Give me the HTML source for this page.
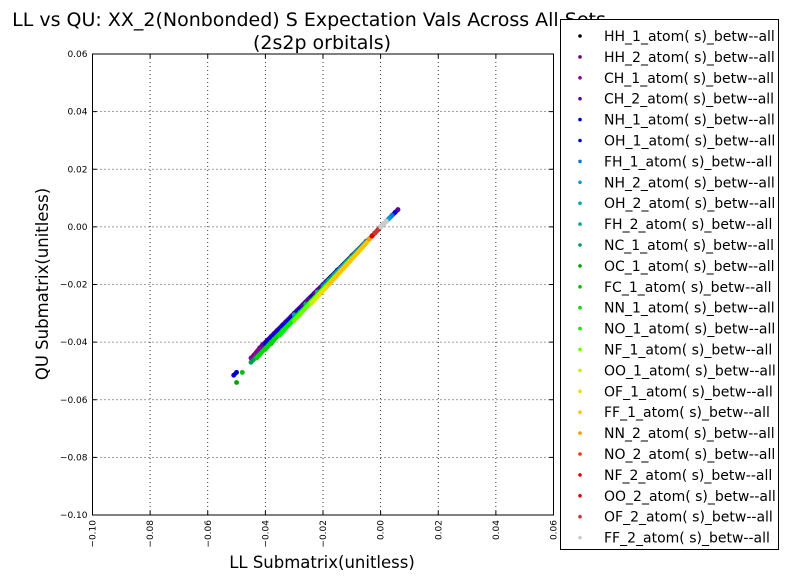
<!DOCTYPE html>
<html><head><meta charset="utf-8"><style>
body{margin:0;background:#fff;width:788px;height:580px;overflow:hidden;font-family:"Liberation Sans","DejaVu Sans",sans-serif}
svg text{font-family:"DejaVu Sans","Liberation Sans",sans-serif}
</style></head><body>
<svg id="c" width="788" height="580" xmlns="http://www.w3.org/2000/svg">
<text x="309" y="26" text-anchor="middle" font-size="19">LL vs QU: XX_2(Nonbonded) S Expectation Vals Across All Sets</text>
<text x="322" y="49" text-anchor="middle" font-size="19">(2s2p orbitals)</text>
<g id="grid"></g><g id="marks"></g><g id="axes"></g>
<text x="322" y="568" text-anchor="middle" font-size="16.5">LL Submatrix(unitless)</text>
<text transform="translate(48,284) rotate(-90)" text-anchor="middle" font-size="16.5">QU Submatrix(unitless)</text>
<g id="legend"></g>
</svg>
<script>
const xTicks=[-0.10,-0.08,-0.06,-0.04,-0.02,0.00,0.02,0.04,0.06];
const yTicks=[-0.10,-0.08,-0.06,-0.04,-0.02,0.00,0.02,0.04,0.06];
const seriesNames=["HH_1","HH_2","CH_1","CH_2","NH_1","OH_1","FH_1","NH_2","OH_2","FH_2","NC_1","OC_1","FC_1","NN_1","NO_1","NF_1","OO_1","OF_1","FF_1","NN_2","NO_2","NF_2","OO_2","OF_2","FF_2"];
const seriesColors=["#000000","#6a0078","#880099","#5a00a8","#0000c0","#0000e0","#0077dd","#0099dd","#00aaaa","#00aa90","#009955","#00a000","#00bb00","#00d800","#00ee00","#66ff00","#ccf000","#eedd00","#ffc400","#ff9900","#ff3300","#ee0000","#dd0000","#cc3333","#cccccc"];
const seriesX=[
[-0.030,-0.025,-0.020,-0.015,-0.010,-0.005],
[-0.044,-0.042,-0.038,-0.034,-0.030,-0.026,-0.022,0.002,0.004,0.006],
[-0.045,-0.043,-0.041,-0.037,-0.033,-0.029,0.003,0.005],
[-0.041,-0.036,-0.031,-0.027,-0.023,-0.019,0.004,0.006],
[-0.051,-0.050,-0.040,-0.035,-0.028,-0.018,-0.012],
[-0.039,-0.032,-0.024,-0.016,-0.008,0.005],
[-0.020,-0.014,-0.008,-0.003,0.001,0.004],
[-0.016,-0.010,-0.004,0.000,0.003],
[-0.030,-0.022,-0.012,-0.002,0.002],
[-0.026,-0.018,-0.010,-0.004],
[-0.045,-0.038,-0.033,-0.028,-0.020,-0.014],
[-0.050,-0.038,-0.034,-0.030,-0.025,-0.020],
[-0.048,-0.040,-0.036,-0.031,-0.026,-0.021,-0.017],
[-0.043,-0.037,-0.032,-0.027,-0.022,-0.016],
[-0.035,-0.029,-0.024,-0.019,-0.015,-0.011],
[-0.030,-0.024,-0.019,-0.014,-0.010],
[-0.024,-0.019,-0.015,-0.012,-0.009,-0.006],
[-0.021,-0.017,-0.013,-0.010,-0.007,-0.004],
[-0.018,-0.014,-0.011,-0.008,-0.005],
[-0.004,-0.002,0.000],
[-0.003,-0.002,-0.001],
[-0.002,-0.001],
[-0.003,-0.001],
[-0.002,0.000],
[0.000,0.001,0.002]];
const seriesY=[
[-0.030,-0.025,-0.020,-0.015,-0.010,-0.005],
[-0.0445,-0.042,-0.038,-0.034,-0.030,-0.026,-0.022,0.002,0.004,0.006],
[-0.0455,-0.0435,-0.041,-0.037,-0.033,-0.029,0.003,0.005],
[-0.041,-0.036,-0.031,-0.027,-0.023,-0.019,0.004,0.006],
[-0.0515,-0.0505,-0.0405,-0.0355,-0.0285,-0.0182,-0.0122],
[-0.0395,-0.0325,-0.0243,-0.0162,-0.0081,0.005],
[-0.0205,-0.0143,-0.0082,-0.0031,0.001,0.004],
[-0.0165,-0.0103,-0.0042,0.000,0.003],
[-0.0305,-0.0226,-0.0124,-0.0021,0.002],
[-0.0268,-0.0186,-0.0104,-0.0042],
[-0.047,-0.040,-0.035,-0.0295,-0.0212,-0.015],
[-0.054,-0.0405,-0.0358,-0.032,-0.0266,-0.0214],
[-0.0505,-0.0425,-0.038,-0.033,-0.0278,-0.0224,-0.0182],
[-0.0455,-0.039,-0.034,-0.0288,-0.0236,-0.0172],
[-0.0375,-0.031,-0.0258,-0.0205,-0.0162,-0.0118],
[-0.0325,-0.026,-0.0208,-0.0153,-0.011],
[-0.0265,-0.0212,-0.0168,-0.0135,-0.0101,-0.0068],
[-0.0232,-0.0189,-0.0145,-0.0112,-0.0079,-0.0045],
[-0.0198,-0.0155,-0.0122,-0.0089,-0.0056],
[-0.0042,-0.0021,0.000],
[-0.0032,-0.0021,-0.0011],
[-0.0022,-0.0011],
[-0.0032,-0.0011],
[-0.0022,0.000],
[0.000,0.001,0.002]];
const NS="http://www.w3.org/2000/svg";
const L=92.5,R=553.5,T=54,B=515,xmin=-0.10,xmax=0.06,ymin=-0.10,ymax=0.06;
const sx=v=>L+(v-xmin)/(xmax-xmin)*(R-L);
const sy=v=>B-(v-ymin)/(ymax-ymin)*(B-T);
function mk(tag,at,parent){const e=document.createElementNS(NS,tag);for(const k in at)e.setAttribute(k,at[k]);parent.appendChild(e);return e;}
const grid=document.getElementById('grid'),axes=document.getElementById('axes'),marks=document.getElementById('marks'),leg=document.getElementById('legend');
xTicks.forEach(t=>{const x=sx(t);
 const g=mk('line',{x1:x,x2:x,y1:T,y2:B,stroke:'#000','stroke-dasharray':'1,3','stroke-width':0.8},grid);
 
 
 mk('line',{x1:x,x2:x,y1:B,y2:B-4,stroke:'#000'},axes);mk('line',{x1:x,x2:x,y1:T,y2:T+4,stroke:'#000'},axes);
 const tx=mk('text',{transform:`translate(${x+3},${B+5}) rotate(-90)`,'text-anchor':'end','font-size':9},axes);
 tx.textContent=t.toFixed(2).replace('-','\u2212');
 
 });
yTicks.forEach(t=>{const y=sy(t);
 const g=mk('line',{x1:L,x2:R,y1:y,y2:y,stroke:'#000','stroke-dasharray':'1,3','stroke-width':0.8},grid);
 
 
 mk('line',{x1:L,x2:L+4,y1:y,y2:y,stroke:'#000'},axes);mk('line',{x1:R,x2:R-4,y1:y,y2:y,stroke:'#000'},axes);
 const tx=mk('text',{x:L-5,y:y+3,'text-anchor':'end','font-size':9},axes);
 tx.textContent=t.toFixed(2).replace('-','\u2212');
 
 });
const fr=mk('rect',{x:L,y:T,width:R-L,height:B-T,fill:'none',stroke:'#000','stroke-width':1},axes);


seriesX.forEach((xs,i)=>{
 const g=mk('g',{fill:seriesColors[i]},marks);
 
 
 for(let j=0;j<xs.length;j++){
  const c=mk('circle',{cx:sx(xs[j]),cy:sy(seriesY[i][j]),r:2.4},g);
  
  
  if(j>0&&Math.abs(xs[j]-xs[j-1])<0.0075){
   const l=mk('line',{x1:sx(xs[j-1]),y1:sy(seriesY[i][j-1]),x2:sx(xs[j]),y2:sy(seriesY[i][j]),stroke:seriesColors[i],'stroke-width':4.2,'stroke-linecap':'round'},g);
   
   
  }
 }
});
const lb=mk('rect',{x:560.5,y:19.5,width:218,height:530,fill:'#fff',stroke:'#000'},leg);


seriesNames.forEach((n,i)=>{const y=36+i*20.9;
 const g=mk('g',{},leg);
 
 
 mk('circle',{cx:580,cy:y,r:1.8,fill:seriesColors[i]},g);
 const t=mk('text',{x:604,y:y+5,'font-size':14},g);t.textContent=n+'_atom( s)_betw--all';});
</script>
</body></html>
